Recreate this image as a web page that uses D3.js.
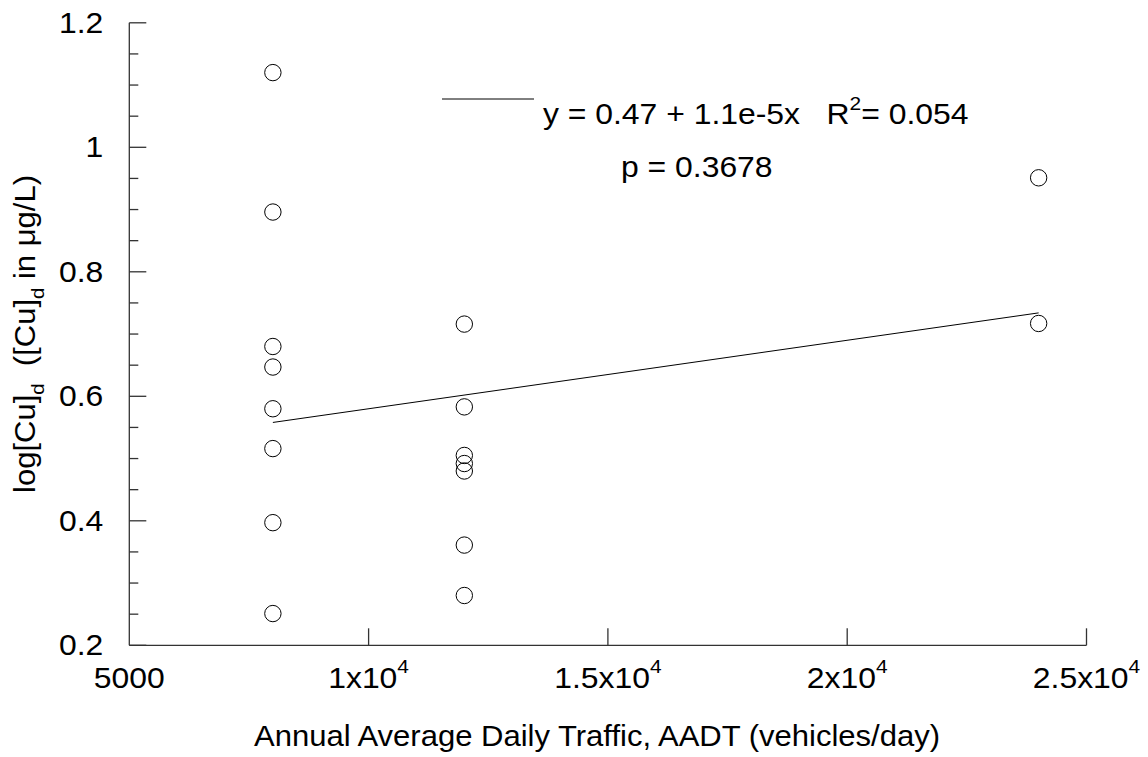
<!DOCTYPE html>
<html>
<head>
<meta charset="utf-8">
<script src="https://cdn.jsdelivr.net/npm/d3@7"></script>
<style>
  html, body { margin: 0; padding: 0; background: #fff; }
  svg { display: block; font-family: "Liberation Sans", Arial, sans-serif; }
</style>
</head>
<body>
<svg id="chart" width="1148" height="757"></svg>
<script>
// Traffic volume (AADT) at each sampling site and the dissolved copper measured there
const aadt = [8000, 8000, 8000, 8000, 8000, 8000, 8000, 8000,
              12000, 12000, 12000, 12000, 12000, 12000, 12000,
              24000, 24000];
const logCu = [1.120, 0.896, 0.680, 0.647, 0.580, 0.516, 0.397, 0.251,
               0.716, 0.583, 0.505, 0.492, 0.480, 0.361, 0.280,
               0.951, 0.717];

// Least-squares fit reported on the chart
const fitIntercept = 0.47;
const fitSlope = 1.1e-5;
const fitRange = [8000, 24000];

// Axis ticks
const xTicks = [5000, 10000, 15000, 20000, 25000];
const xTickMantissa = ["5000", "1", "1.5", "2", "2.5"];
const yTicks = [0.2, 0.4, 0.6, 0.8, 1.0, 1.2];
const yTickLabels = ["0.2", "0.4", "0.6", "0.8", "1", "1.2"];
const yMinorTicks = d3.range(0.25, 1.2, 0.05).filter(v => Math.abs(v * 5 - Math.round(v * 5)) > 1e-6);

const svg = d3.select("#chart");
const ink = "#000";
const axisInk = "#333";
const fontSize = 29;
const supSize = 19;
const stretch = 1.1;      // glyphs are set slightly wide
const titleStretch = 1.07;

const x = d3.scaleLinear().domain([5000, 25000]).range([129.3, 1086.5]);
const y = d3.scaleLinear().domain([0.2, 1.2]).range([645.3, 22.8]);

// Text anchored at (px, py), widened horizontally by sx
function wideText(parent, px, py, sx, rotate) {
  const g = parent.append("g")
    .attr("transform", `translate(${px},${py})${rotate ? ` rotate(${rotate})` : ""} scale(${sx},1)`);
  return g.append("text").attr("font-size", fontSize).attr("fill", ink);
}

// ---- Y axis (ticks point into the plot) ----
const gy = svg.append("g");
gy.append("line")
  .attr("x1", x(5000)).attr("x2", x(5000))
  .attr("y1", y(0.2)).attr("y2", y(1.2))
  .attr("stroke", axisInk).attr("stroke-width", 1.3);
gy.selectAll("line.major").data(yTicks).join("line")
  .attr("class", "major")
  .attr("x1", x(5000)).attr("x2", x(5000) + 17)
  .attr("y1", d => y(d)).attr("y2", d => y(d))
  .attr("stroke", axisInk).attr("stroke-width", 1.3);
gy.selectAll("line.minor").data(yMinorTicks).join("line")
  .attr("class", "minor")
  .attr("x1", x(5000)).attr("x2", x(5000) + 9)
  .attr("y1", d => y(d)).attr("y2", d => y(d))
  .attr("stroke", axisInk).attr("stroke-width", 1.3);
yTicks.forEach((d, i) => {
  wideText(gy, x(5000) - 26, y(d) + 10, stretch)
    .attr("text-anchor", "end")
    .text(yTickLabels[i]);
});

// ---- X axis (ticks point up into the plot) ----
const gx = svg.append("g");
gx.append("line")
  .attr("x1", x(5000)).attr("x2", x(25000))
  .attr("y1", y(0.2)).attr("y2", y(0.2))
  .attr("stroke", axisInk).attr("stroke-width", 1.3);
gx.selectAll("line.tick").data(xTicks.slice(1)).join("line")
  .attr("class", "tick")
  .attr("x1", d => x(d)).attr("x2", d => x(d))
  .attr("y1", y(0.2)).attr("y2", y(0.2) - 17)
  .attr("stroke", axisInk).attr("stroke-width", 1.3);
xTicks.forEach((d, i) => {
  const t = wideText(gx, x(d), 688, stretch).attr("text-anchor", "middle");
  if (i === 0) { t.text(xTickMantissa[i]); return; }
  t.append("tspan").text(xTickMantissa[i] + "x10");
  t.append("tspan").attr("dy", -15).attr("font-size", supSize).text("4");
});

// ---- Axis titles ----
wideText(svg, 597, 746, titleStretch)
  .attr("text-anchor", "middle")
  .text("Annual Average Daily Traffic, AADT (vehicles/day)");

const yt = wideText(svg, 35, 334, titleStretch, -90).attr("text-anchor", "middle");
yt.append("tspan").text("log[Cu]");
yt.append("tspan").attr("dy", 9).attr("font-size", supSize).text("d");
yt.append("tspan").attr("dy", -9).text("\u00a0 ([Cu]");
yt.append("tspan").attr("dy", 9).attr("font-size", supSize).text("d");
yt.append("tspan").attr("dy", -9).text(" in \u03bcg/L)");

// ---- Regression line ----
const fitLine = d3.line().x(d => x(d)).y(d => y(fitIntercept + fitSlope * d));
svg.append("path")
  .attr("d", fitLine(fitRange))
  .attr("fill", "none")
  .attr("stroke", ink)
  .attr("stroke-width", 1);

// ---- Observations ----
svg.append("g").selectAll("circle").data(aadt).join("circle")
  .attr("cx", d => x(d))
  .attr("cy", (d, i) => y(logCu[i]))
  .attr("r", 8.2)
  .attr("fill", "none")
  .attr("stroke", ink)
  .attr("stroke-width", 1);

// ---- Fit annotation ----
svg.append("line")
  .attr("x1", 442).attr("x2", 534)
  .attr("y1", 99).attr("y2", 99)
  .attr("stroke", ink).attr("stroke-width", 1);
const eq = wideText(svg, 543, 124, stretch);
eq.append("tspan").text("y = 0.47 + 1.1e-5x\u00a0\u00a0\u00a0R");
eq.append("tspan").attr("dy", -14).attr("font-size", supSize).text("2");
eq.append("tspan").attr("dy", 14).text("= 0.054");
wideText(svg, 621, 177, stretch).text("p = 0.3678");
</script>
</body>
</html>
